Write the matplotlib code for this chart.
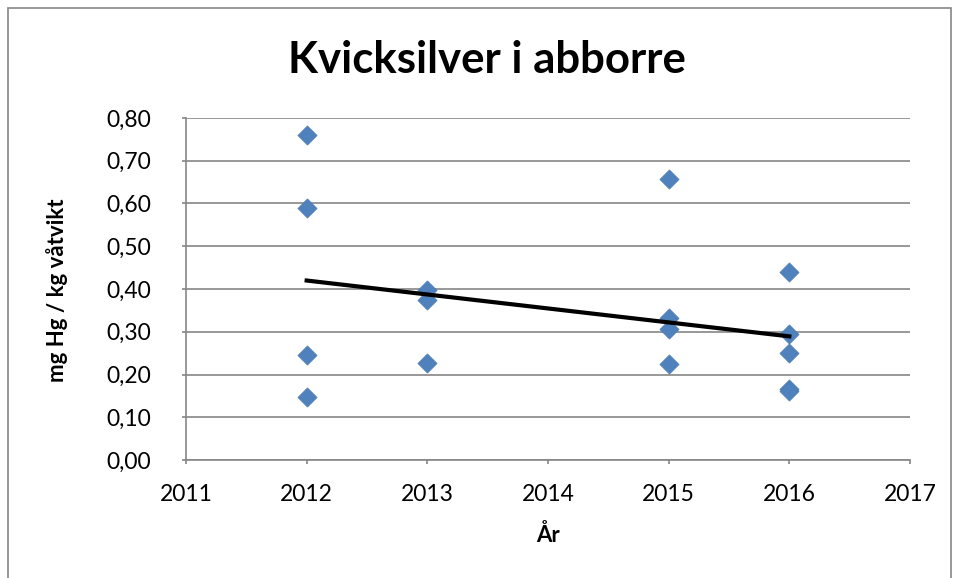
import numpy as np
import matplotlib.pyplot as plt
from matplotlib.ticker import FuncFormatter, MultipleLocator
from matplotlib.patches import Rectangle

plt.rcParams['font.family'] = ['Lato', 'DejaVu Sans']

# measured values (mg Hg / kg wet weight)
years = [2012, 2012, 2012, 2012,
         2013, 2013, 2013,
         2015, 2015, 2015, 2015,
         2016, 2016, 2016, 2016, 2016]
hg = [0.76, 0.59, 0.245, 0.148,
      0.398, 0.374, 0.227,
      0.657, 0.332, 0.306, 0.225,
      0.440, 0.294, 0.250, 0.167, 0.161]

x = np.array(years, dtype=float)
y = np.array(hg)

fig = plt.figure(figsize=(9.55, 5.78), dpi=100)
ax = fig.add_axes([186/955, 1 - 460/578, (910-186)/955, (460-118)/578])

ax.scatter(x, y, marker='D', s=95, color='#4F81BD', edgecolors='#4A7BB5',
           linewidths=0.5, zorder=3)

# linear trend line (Excel style)
k, m = np.polyfit(x, y, 1)
xt = np.array([x.min(), x.max()])
ax.plot(xt, k*xt + m, color='black', lw=3, zorder=4)

ax.set_xlim(2011, 2017)
ax.set_ylim(0, 0.8)
ax.xaxis.set_major_locator(MultipleLocator(1))
ax.yaxis.set_major_locator(MultipleLocator(0.1))
ax.xaxis.set_major_formatter(FuncFormatter(lambda v, p: f"{int(round(v))}"))
ax.yaxis.set_major_formatter(FuncFormatter(lambda v, p: f"{v:.2f}".replace('.', ',')))
ax.grid(axis='y', color='#868686', lw=1.2)
ax.set_axisbelow(True)
for s in ['top', 'right']:
    ax.spines[s].set_visible(False)
for s in ['left', 'bottom']:
    ax.spines[s].set_color('#868686')
    ax.spines[s].set_linewidth(1.2)
ax.tick_params(axis='both', labelsize=16.5, color='#868686', length=3, width=1.2)
ax.tick_params(axis='y', pad=22)
ax.tick_params(axis='x', pad=14)

fig.text(548/955, 1 - 535/578, 'År', ha='center', va='center',
         fontsize=16, fontweight='bold')
fig.text(57/955, 1 - 290/578, 'mg Hg / kg våtvikt', ha='center', va='center',
         rotation=90, fontsize=16, fontweight='bold')
fig.text(487/955, 1 - 60/578, 'Kvicksilver i abborre', ha='center', va='center',
         fontsize=31.5, fontweight='bold')

fig.patches.append(Rectangle((8/955, -0.1), 943/955, 1 - 8/578 + 0.1,
                             transform=fig.transFigure, fill=False,
                             edgecolor='#868686', lw=1.2))

fig.savefig('out.png', dpi=100)
